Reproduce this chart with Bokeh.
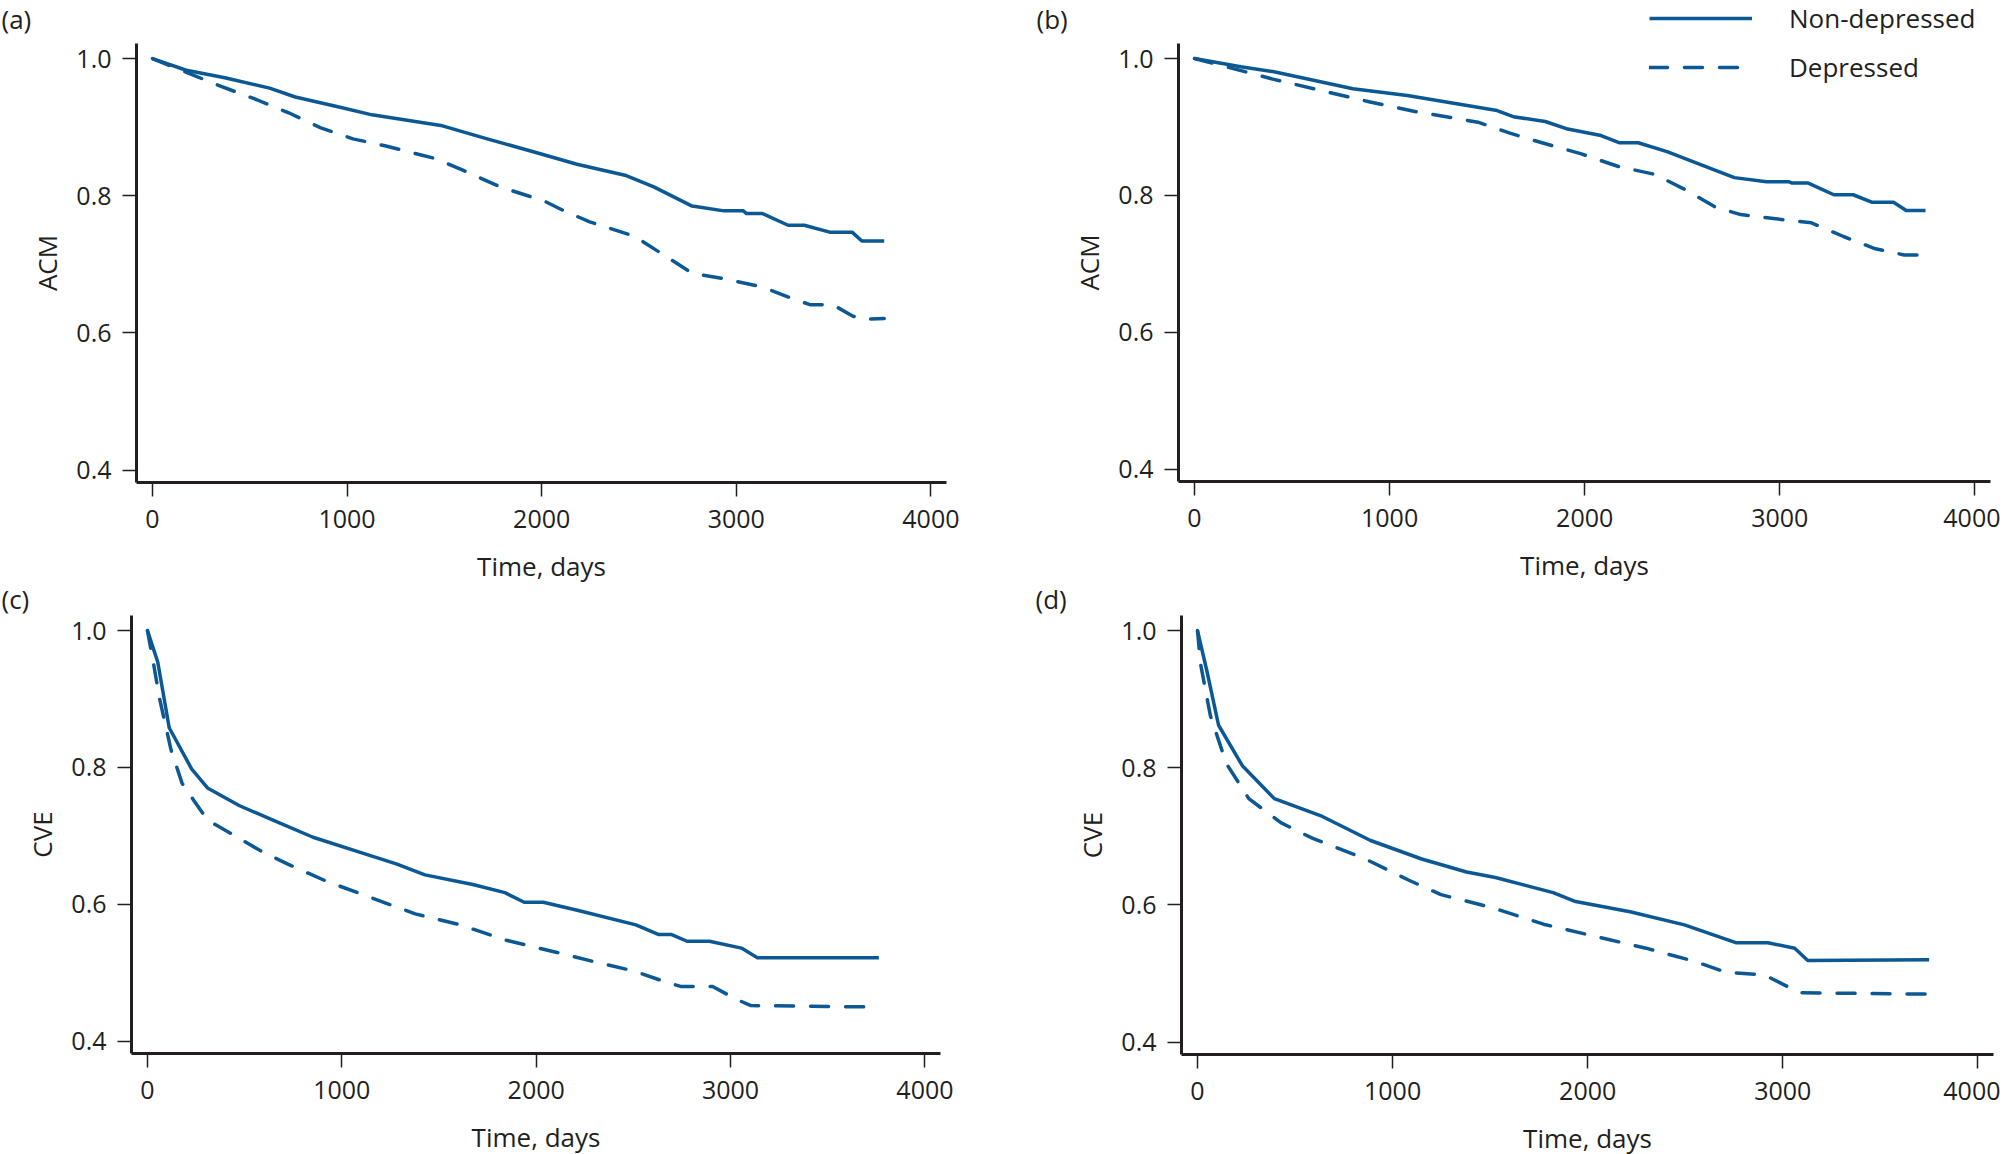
from bokeh.plotting import figure
from bokeh.layouts import row, column
from bokeh.models import (Range1d, FixedTicker, Label, Legend, LegendItem, GridBox,
                          NumeralTickFormatter)
from bokeh.embed import file_html
from bokeh.resources import INLINE

FONT = "Open Sans"
BLUE = "#0b5895"
INK = "#231f20"

x_ticks = [0, 1000, 2000, 3000, 4000]
y_ticks = [0.4, 0.6, 0.8, 1.0]

# (a) ACM
a_nd_days = [0, 174, 372, 602, 734, 964, 1128, 1490, 1720, 1984, 2181, 2428, 2576, 2773,
             2937, 3036, 3053, 3135, 3266, 3349, 3480, 3595, 3645, 3760]
a_nd_surv = [1.0, 0.983, 0.972, 0.957, 0.944, 0.929, 0.918, 0.902, 0.883, 0.862, 0.846, 0.830,
             0.813, 0.785, 0.778, 0.778, 0.774, 0.774, 0.757, 0.757, 0.747, 0.747, 0.734, 0.734]
a_d_days = [0, 174, 339, 536, 700, 865, 1030, 1194, 1457, 1589, 1786, 2016, 2115, 2247, 2477,
            2609, 2773, 2937, 3135, 3299, 3382, 3497, 3595, 3645, 3760]
a_d_surv = [1.0, 0.980, 0.961, 0.940, 0.921, 0.899, 0.883, 0.873, 0.854, 0.838, 0.813, 0.792,
            0.778, 0.762, 0.741, 0.717, 0.687, 0.679, 0.667, 0.649, 0.641, 0.641, 0.625, 0.620, 0.621]

# (b) ACM
b_nd_days = [0, 237, 401, 598, 812, 1091, 1321, 1551, 1634, 1798, 1913, 2077, 2176, 2274, 2422,
             2767, 2932, 3047, 3063, 3146, 3277, 3376, 3474, 3583, 3648, 3747]
b_nd_surv = [1.0, 0.988, 0.981, 0.969, 0.956, 0.946, 0.935, 0.924, 0.915, 0.908, 0.897, 0.888,
             0.877, 0.877, 0.864, 0.826, 0.820, 0.820, 0.818, 0.818, 0.801, 0.801, 0.790, 0.790,
             0.778, 0.778]
b_d_days = [0, 204, 401, 697, 894, 1124, 1453, 1617, 1781, 1979, 2176, 2357, 2505, 2669, 2800,
            3063, 3162, 3326, 3490, 3638, 3753]
b_d_surv = [1.0, 0.985, 0.970, 0.950, 0.937, 0.923, 0.907, 0.891, 0.877, 0.861, 0.842, 0.831,
            0.810, 0.783, 0.772, 0.763, 0.760, 0.740, 0.722, 0.713, 0.713]

# (c) CVE
c_nd_days = [0, 53, 112, 227, 309, 474, 622, 852, 1115, 1280, 1428, 1674, 1839, 1938, 2036,
             2217, 2513, 2628, 2694, 2776, 2891, 3056, 3138, 3763]
c_nd_surv = [1.0, 0.954, 0.858, 0.798, 0.770, 0.744, 0.726, 0.698, 0.674, 0.659, 0.643, 0.629,
             0.617, 0.603, 0.603, 0.591, 0.570, 0.556, 0.556, 0.546, 0.546, 0.536, 0.522, 0.522]
c_d_days = [0, 30, 62, 122, 178, 243, 309, 457, 589, 720, 918, 1148, 1378, 1609, 1839, 2102,
            2299, 2497, 2661, 2743, 2908, 3023, 3105, 3730]
c_d_surv = [1.0, 0.954, 0.901, 0.825, 0.777, 0.750, 0.723, 0.699, 0.677, 0.659, 0.634, 0.610,
            0.586, 0.570, 0.548, 0.530, 0.516, 0.503, 0.487, 0.480, 0.480, 0.462, 0.452, 0.450]

# (d) CVE
d_nd_days = [0, 49, 108, 230, 394, 640, 887, 1149, 1379, 1527, 1823, 1938, 2217, 2496, 2759,
             2923, 3061, 3128, 3750]
d_nd_surv = [1.0, 0.940, 0.862, 0.803, 0.755, 0.729, 0.694, 0.667, 0.648, 0.640, 0.618, 0.605,
             0.590, 0.571, 0.545, 0.545, 0.537, 0.519, 0.520]
d_d_days = [0, 16, 66, 148, 263, 427, 591, 854, 1084, 1248, 1511, 1773, 2102, 2299, 2545, 2709,
            2906, 3087, 3744]
d_d_surv = [1.0, 0.951, 0.876, 0.806, 0.755, 0.720, 0.697, 0.668, 0.636, 0.615, 0.596, 0.572,
            0.550, 0.537, 0.518, 0.502, 0.498, 0.472, 0.470]

series_labels = ["Non-depressed", "Depressed"]
panel_tags = ["(a)", "(b)", "(c)", "(d)"]


def panel(ylab, nd_x, nd_y, d_x, d_y, borders, frame):
    left, right, top, bottom = borders
    p = figure(frame_width=frame[0], frame_height=frame[1],
               x_range=Range1d(-82, 4080), y_range=Range1d(0.382, 1.022),
               min_border_left=left, min_border_right=right,
               min_border_top=top, min_border_bottom=bottom,
               output_backend="svg", toolbar_location=None)
    p.outline_line_color = None
    p.grid.visible = False
    p.xaxis.ticker = FixedTicker(ticks=x_ticks)
    p.yaxis.ticker = FixedTicker(ticks=y_ticks)
    p.yaxis.formatter = NumeralTickFormatter(format="0.0")
    p.xaxis.axis_label = "Time, days"
    p.yaxis.axis_label = ylab
    for ax in (p.xaxis, p.yaxis):
        ax.axis_line_width = 3
        ax.axis_line_color = INK
        ax.major_tick_line_color = INK
        ax.major_tick_line_width = 1.5
        ax.major_tick_out = 14
        ax.major_tick_in = 0
        ax.minor_tick_line_color = None
        ax.major_label_text_font = FONT
        ax.major_label_text_font_size = "25px"
        ax.major_label_text_color = INK
        ax.axis_label_text_font = FONT
        ax.axis_label_text_font_size = "26px"
        ax.axis_label_text_font_style = "normal"
        ax.axis_label_text_color = INK
    p.xaxis.major_label_standoff = 13
    p.yaxis.major_label_standoff = 11
    p.xaxis.axis_label_standoff = 17
    p.yaxis.axis_label_standoff = 8

    p.line(nd_x, nd_y, line_color=BLUE, line_width=3.5, line_join="round")
    p.line(d_x, d_y, line_color=BLUE, line_width=3.5, line_dash="18 17",
           line_cap="round", line_join="round")
    return p


pa = panel("ACM", a_nd_days, a_nd_surv, a_d_days, a_d_surv, (136, 54, 41, 105), (810, 439))
pb = panel("ACM", b_nd_days, b_nd_surv, b_d_days, b_d_surv, (178, 10, 43, 104), (812, 438))
pc = panel("CVE", c_nd_days, c_nd_surv, c_d_days, c_d_surv, (131, 60, 30, 97), (809, 438))
pd = panel("CVE", d_nd_days, d_nd_surv, d_d_days, d_d_surv, (181, 7, 30, 96), (812, 439))
panels = column(row(pa, pb), row(pc, pd))

# transparent overlay in the same grid cell, for panel tags and the shared legend
W, H = 2000, 1150
ov = figure(width=W, height=H, x_range=Range1d(0, W), y_range=Range1d(H, 0),
            x_axis_location=None, y_axis_location=None, min_border=0,
            output_backend="svg", toolbar_location=None)
ov.outline_line_color = None
ov.background_fill_alpha = 0
ov.border_fill_alpha = 0
ov.grid.visible = False

for tag, (tx, ty) in zip(panel_tags, [(1, 0), (1036, 0), (1, 580), (1035, 580)]):
    ov.add_layout(Label(x=tx, y=ty, text=tag, text_font=FONT, text_font_size="26px",
                        text_color=INK, text_baseline="top", text_align="left"))

# legend proxies: one NaN point each, so nothing is drawn in the overlay itself
nan = float("nan")
r_nd = ov.line(x=[nan], y=[nan], line_color=BLUE, line_width=3.5)
r_d = ov.line(x=[nan], y=[nan], line_color=BLUE, line_width=3.5, line_dash="18 17",
              line_cap="round")
lg = Legend(items=[LegendItem(label=series_labels[0], renderers=[r_nd]),
                   LegendItem(label=series_labels[1], renderers=[r_d])],
            location=(1649, H - 86), orientation="vertical",
            background_fill_alpha=0, border_line_color=None,
            padding=0, margin=0, spacing=11,
            glyph_width=103, glyph_height=38, label_height=38,
            label_standoff=37, label_text_font=FONT,
            label_text_font_size="26px", label_text_color=INK)
ov.add_layout(lg)

layout = GridBox(children=[(panels, 0, 0), (ov, 0, 0)])

open("out.html", "w").write(file_html(layout, INLINE))
